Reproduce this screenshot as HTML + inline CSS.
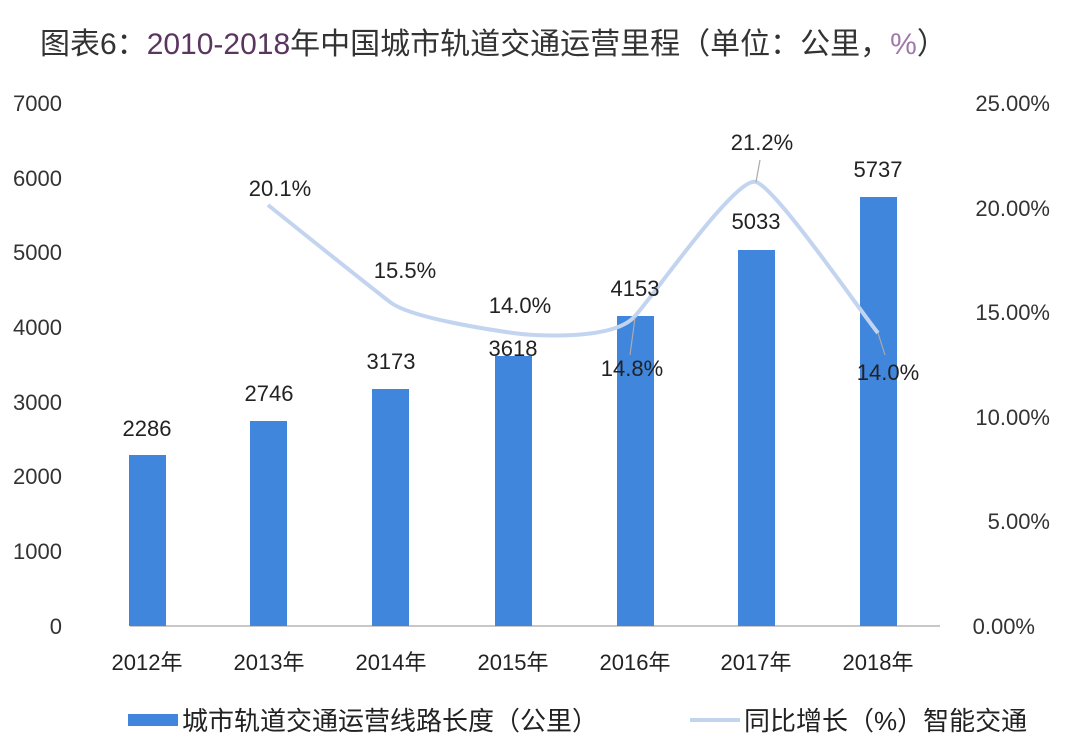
<!DOCTYPE html>
<html><head><meta charset="utf-8"><style>
body{margin:0;background:#fff;}
svg{display:block;font-family:"Liberation Sans","Noto Sans CJK SC",sans-serif;}
</style></head><body>
<svg width="1068" height="741" viewBox="0 0 1068 741">
<rect width="1068" height="741" fill="#fff"/>
<text x="40" y="54" font-size="30" fill="#333">图表6：<tspan fill="#5a3560">2010-2018</tspan>年中国城市轨道交通运营里程（单位：公里，<tspan fill="#a07aa8">%</tspan>）</text>
<g font-size="22" fill="#333" text-anchor="end">
<text x="62" y="111">7000</text><text x="62" y="186">6000</text><text x="62" y="260">5000</text><text x="62" y="335">4000</text><text x="62" y="410">3000</text><text x="62" y="484">2000</text><text x="62" y="559">1000</text><text x="62" y="634">0</text>
</g>
<g font-size="22" fill="#333" text-anchor="end">
<text x="1050" y="111">25.00%</text><text x="1050" y="216">20.00%</text><text x="1050" y="320">15.00%</text><text x="1050" y="425">10.00%</text><text x="1050" y="529">5.00%</text><text x="1035" y="634">0.00%</text>
</g>
<line x1="130" y1="626" x2="940" y2="626" stroke="#c8c8c8" stroke-width="2"/>
<g fill="#3f86dc">
<rect x="129" y="455" width="37" height="171"/>
<rect x="250" y="421" width="37" height="205"/>
<rect x="372" y="389" width="37" height="237"/>
<rect x="495" y="356" width="37" height="270"/>
<rect x="617" y="316" width="37" height="310"/>
<rect x="738" y="250" width="37" height="376"/>
<rect x="860" y="197" width="37" height="429"/>
</g>
<path d="M268,205 C288,221 369,286 390,302 C410,318 492,330 513,333 C533,336 614,341 635,316 C655,294 736,176 756,182 C776,188 858,308 878,333" fill="none" stroke="#c2d4f0" stroke-width="4"/>
<g stroke="#aaa" stroke-width="1.2">
<line x1="635" y1="318" x2="630" y2="355"/>
<line x1="756" y1="182" x2="760" y2="160"/>
<line x1="878" y1="333" x2="885" y2="355"/>
</g>
<g font-size="22" fill="#222" text-anchor="middle">
<text x="147" y="436">2286</text><text x="269" y="401">2746</text><text x="391" y="369">3173</text><text x="513" y="356">3618</text><text x="635" y="296">4153</text><text x="756" y="229">5033</text><text x="878" y="177">5737</text>
<text x="280" y="196">20.1%</text><text x="405" y="278">15.5%</text><text x="520" y="313">14.0%</text><text x="632" y="376">14.8%</text><text x="762" y="150">21.2%</text><text x="888" y="380">14.0%</text>
</g>
<g font-size="22" fill="#222" text-anchor="middle">
<text x="147" y="670">2012年</text><text x="269" y="670">2013年</text><text x="391" y="670">2014年</text><text x="513" y="670">2015年</text><text x="635" y="670">2016年</text><text x="756" y="670">2017年</text><text x="878" y="670">2018年</text>
</g>
<rect x="128" y="714" width="50" height="12" fill="#3f86dc"/>
<text x="182" y="730" font-size="26" fill="#222">城市轨道交通运营线路长度（公里）</text>
<line x1="690" y1="720" x2="740" y2="720" stroke="#c2d4f0" stroke-width="4"/>
<text x="744" y="730" font-size="26" fill="#222">同比增长（%）智能交通</text>
</svg>
</body></html>
